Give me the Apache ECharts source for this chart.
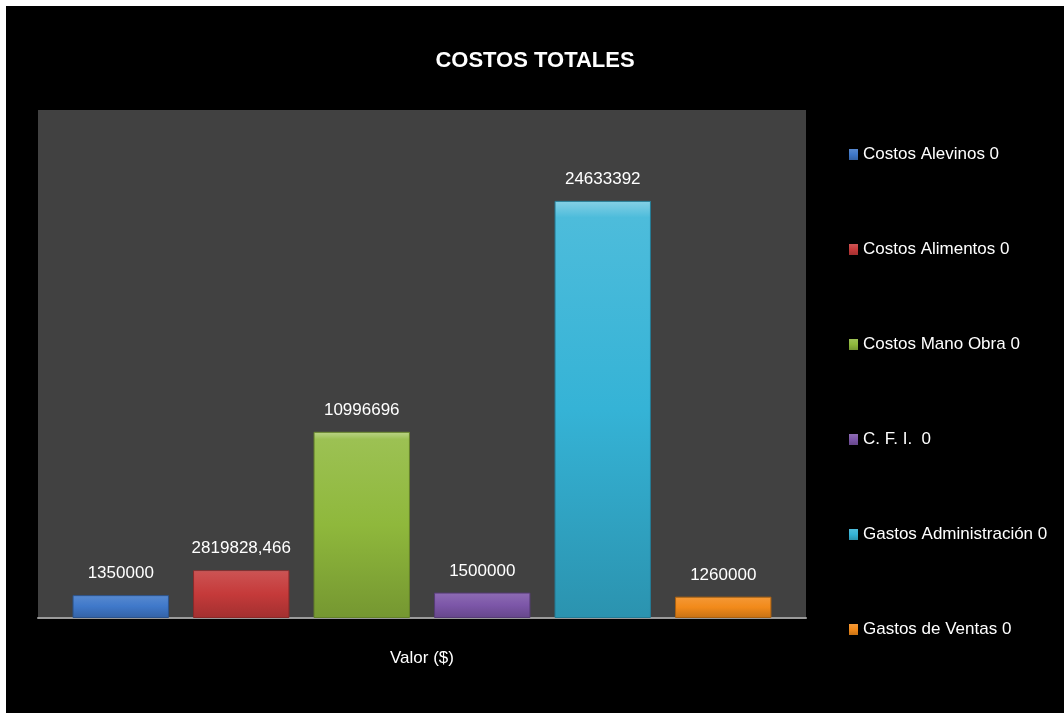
<!DOCTYPE html>
<html>
<head>
<meta charset="utf-8">
<script src="https://cdn.jsdelivr.net/npm/echarts@6/dist/echarts.min.js"></script>
<style>
  html, body { margin: 0; padding: 0; background: #ffffff; }
  #chart { position: absolute; left: 6px; top: 6px; width: 1058px; height: 707px; background: #000; }
</style>
</head>
<body>
<div id="chart"></div>
<script>
// Chart data
const categories = ['Valor ($)'];
const seriesNames = [
  'Costos Alevinos 0',
  'Costos Alimentos 0',
  'Costos Mano Obra 0',
  'C. F. I.  0',
  'Gastos Administración 0',
  'Gastos de Ventas 0'
];
const seriesValues = [1350000, 2819828.466, 10996696, 1500000, 24633392, 1260000];
const seriesColors = ['#3f78c9', '#c53a3a', '#8fb83c', '#7c56a8', '#35b3d6', '#f28a1a'];

const FONT = '"Liberation Sans Narrow", "Liberation Sans", Arial, sans-serif';

function shade(hex, amt) {
  const n = parseInt(hex.slice(1), 16);
  let r = (n >> 16) & 255, g = (n >> 8) & 255, b = n & 255;
  const f = c => Math.max(0, Math.min(255, Math.round(amt >= 0 ? c + (255 - c) * amt : c * (1 + amt))));
  return 'rgb(' + f(r) + ',' + f(g) + ',' + f(b) + ')';
}

function fmt(v) {
  // decimal comma, no thousands separator
  return String(v).replace('.', ',');
}

const chart = echarts.init(document.getElementById('chart'));

const series = seriesNames.map((name, i) => ({
  name: name,
  type: 'bar',
  data: [seriesValues[i]],
  barGap: '25%',
  barCategoryGap: '9%',
  itemStyle: {
    color: {
      type: 'linear', x: 0, y: 0, x2: 0, y2: 1,
      colorStops: [
        { offset: 0, color: shade(seriesColors[i], 0.4) },
        { offset: 0.04, color: shade(seriesColors[i], 0.12) },
        { offset: 0.5, color: seriesColors[i] },
        { offset: 1, color: shade(seriesColors[i], -0.18) }
      ]
    },
    borderColor: shade(seriesColors[i], -0.3),
    borderWidth: 1
  },
  label: {
    show: true,
    position: 'top',
    distance: 13,
    color: '#ffffff',
    fontFamily: FONT,
    fontSize: 17,
    formatter: p => fmt(p.value)
  }
}));

chart.setOption({
  backgroundColor: '#000000',
  animation: false,
  color: seriesColors,
  title: {
    text: 'COSTOS TOTALES',
    left: 'center',
    top: 39,
    textStyle: { color: '#ffffff', fontFamily: FONT, fontWeight: 'bold', fontSize: 22 }
  },
  legend: {
    orient: 'vertical',
    left: 838,
    top: 135,
    itemWidth: 9,
    itemHeight: 11,
    itemGap: 78,
    itemStyle: { borderWidth: 0 },
    icon: 'rect',
    textStyle: { color: '#ffffff', fontFamily: FONT, fontSize: 17 },
    data: seriesNames
  },
  grid: {
    left: 32,
    right: 258,
    top: 104,
    bottom: 95,
    show: true,
    backgroundColor: '#414141',
    borderWidth: 0
  },
  xAxis: {
    type: 'category',
    data: categories,
    axisLine: { show: true, lineStyle: { color: '#9a9a9a', width: 2 } },
    axisTick: { show: false },
    axisLabel: { color: '#ffffff', fontFamily: FONT, fontSize: 17, margin: 32 }
  },
  yAxis: {
    type: 'value',
    min: 0,
    max: 30000000,
    show: false,
    splitLine: { show: false }
  },
  series: series
});
</script>
</body>
</html>
